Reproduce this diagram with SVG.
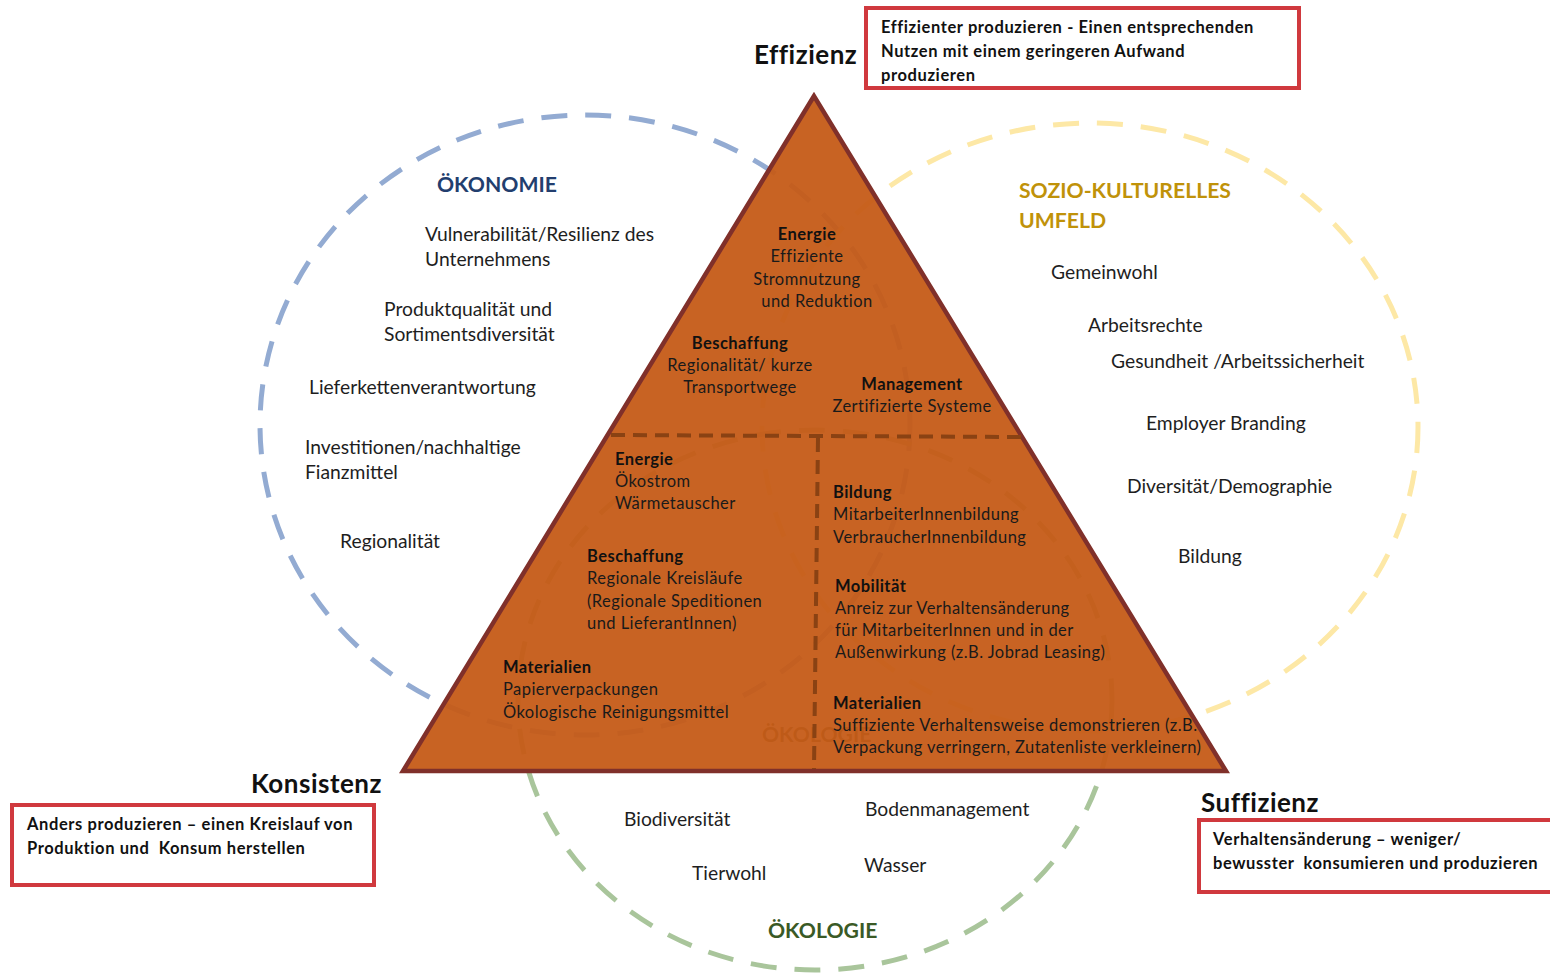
<svg xmlns="http://www.w3.org/2000/svg" width="1550" height="974" viewBox="0 0 1550 974">
<style>
text{font-family:Lato,"Noto Sans","Liberation Sans",sans-serif;fill:#1e1e1e}
.item{font-size:19.3px}
.tri{font-size:16.5px;letter-spacing:0.45px;fill:#1a1a1a}
.triB{font-size:16.5px;letter-spacing:0.45px;font-weight:bold;fill:#111}
.head{font-size:26px;letter-spacing:0.5px;font-weight:bold;fill:#111}
.boxT{font-size:16.5px;letter-spacing:0.6px;font-weight:bold;fill:#111;white-space:pre}
.title{font-size:21.2px;font-weight:bold}
.box{fill:#fff;stroke:#d0393e;stroke-width:4}
.circ{fill:none;stroke-width:5;stroke-dasharray:26 18}
.div{stroke:#8a4213;stroke-width:4;stroke-dasharray:14 8;fill:none}
.c{text-anchor:middle}
</style>

<g id="oekonomie">
<ellipse class="circ" cx="585" cy="425" rx="325" ry="310" stroke="#93abd2"/>
<text class="title" x="437" y="192" style="fill:#223e6e">ÖKONOMIE</text>
<text class="item" x="425" y="241">Vulnerabilität/Resilienz des</text>
<text class="item" x="425" y="266">Unternehmens</text>
<text class="item" x="384" y="316">Produktqualität und</text>
<text class="item" x="384" y="341">Sortimentsdiversität</text>
<text class="item" x="309" y="394">Lieferkettenverantwortung</text>
<text class="item" x="305" y="454">Investitionen/nachhaltige</text>
<text class="item" x="305" y="479">Fianzmittel</text>
<text class="item" x="340" y="548">Regionalität</text>
</g>

<g id="soziokultur">
<ellipse class="circ" cx="1090" cy="427" rx="328" ry="304" stroke="#fde8a6"/>
<text class="title" x="1019" y="198" style="fill:#c09209">SOZIO-KULTURELLES</text>
<text class="title" x="1019" y="228" style="fill:#c09209">UMFELD</text>
<text class="item" x="1051" y="279">Gemeinwohl</text>
<text class="item" x="1088" y="332">Arbeitsrechte</text>
<text class="item" x="1111" y="368">Gesundheit /Arbeitssicherheit</text>
<text class="item" x="1146" y="430">Employer Branding</text>
<text class="item" x="1127" y="493">Diversität/Demographie</text>
<text class="item" x="1178" y="563">Bildung</text>
</g>

<g id="oekologie">
<ellipse class="circ" cx="815" cy="700" rx="297" ry="270" stroke="#a9c59b"/>
<text class="title" x="762" y="742" style="fill:#3a5a26">ÖKOLOGIE</text>
<text class="title" x="768" y="938" style="fill:#3a5a26">ÖKOLOGIE</text>
<text class="item" x="624" y="826">Biodiversität</text>
<text class="item" x="692" y="880">Tierwohl</text>
<text class="item" x="865" y="816">Bodenmanagement</text>
<text class="item" x="864" y="872">Wasser</text>
</g>

<g id="triangle">
<polygon points="814,96 403,771 1226,771" fill="#c55b17" fill-opacity="0.95" stroke="#80302a" stroke-width="4.5" stroke-linejoin="miter"/>
</g>

<g id="dividers">
<line class="div" x1="611" y1="435" x2="1021" y2="437"/>
<line class="div" x1="818" y1="438" x2="814" y2="769"/>
</g>

<g id="effizienz-inhalt">
<text class="triB c" x="807" y="240">Energie</text>
<text class="tri c" x="807" y="262">Effiziente</text>
<text class="tri c" x="807" y="285">Stromnutzung</text>
<text class="tri c" x="817" y="307">und Reduktion</text>
<text class="triB c" x="740" y="349">Beschaffung</text>
<text class="tri c" x="740" y="371">Regionalität/ kurze</text>
<text class="tri c" x="740" y="393">Transportwege</text>
<text class="triB c" x="912" y="390">Management</text>
<text class="tri c" x="912" y="412">Zertifizierte Systeme</text>
</g>

<g id="konsistenz-inhalt">
<text class="triB" x="615" y="465">Energie</text>
<text class="tri" x="615" y="487">Ökostrom</text>
<text class="tri" x="615" y="509">Wärmetauscher</text>
<text class="triB" x="587" y="562">Beschaffung</text>
<text class="tri" x="587" y="584">Regionale Kreisläufe</text>
<text class="tri" x="587" y="607">(Regionale Speditionen</text>
<text class="tri" x="587" y="629">und LieferantInnen)</text>
<text class="triB" x="503" y="673">Materialien</text>
<text class="tri" x="503" y="695">Papierverpackungen</text>
<text class="tri" x="503" y="718">Ökologische Reinigungsmittel</text>
</g>

<g id="suffizienz-inhalt">
<text class="triB" x="833" y="498">Bildung</text>
<text class="tri" x="833" y="520">MitarbeiterInnenbildung</text>
<text class="tri" x="833" y="543">VerbraucherInnenbildung</text>
<text class="triB" x="835" y="592">Mobilität</text>
<text class="tri" x="835" y="614">Anreiz zur Verhaltensänderung</text>
<text class="tri" x="835" y="636">für MitarbeiterInnen und in der</text>
<text class="tri" x="835" y="658">Außenwirkung (z.B. Jobrad Leasing)</text>
<text class="triB" x="833" y="709">Materialien</text>
<text class="tri" x="833" y="731">Suffiziente Verhaltensweise demonstrieren (z.B.</text>
<text class="tri" x="833" y="753">Verpackung verringern, Zutatenliste verkleinern)</text>
</g>

<g id="effizienz">
<text class="head" x="754" y="64">Effizienz</text>
<rect class="box" x="866" y="8" width="433" height="80"/>
<text class="boxT" x="881" y="33">Effizienter produzieren - Einen entsprechenden</text>
<text class="boxT" x="881" y="57">Nutzen mit einem geringeren Aufwand</text>
<text class="boxT" x="881" y="81">produzieren</text>
</g>

<g id="konsistenz">
<text class="head" x="251" y="793">Konsistenz</text>
<rect class="box" x="12" y="805" width="362" height="80"/>
<text class="boxT" x="27" y="830">Anders produzieren – einen Kreislauf von</text>
<text class="boxT" x="27" y="854">Produktion und  Konsum herstellen</text>
</g>

<g id="suffizienz">
<text class="head" x="1201" y="812">Suffizienz</text>
<rect class="box" x="1199" y="820" width="370" height="72"/>
<text class="boxT" x="1213" y="845">Verhaltensänderung – weniger/</text>
<text class="boxT" x="1213" y="869">bewusster  konsumieren und produzieren</text>
</g>
</svg>
